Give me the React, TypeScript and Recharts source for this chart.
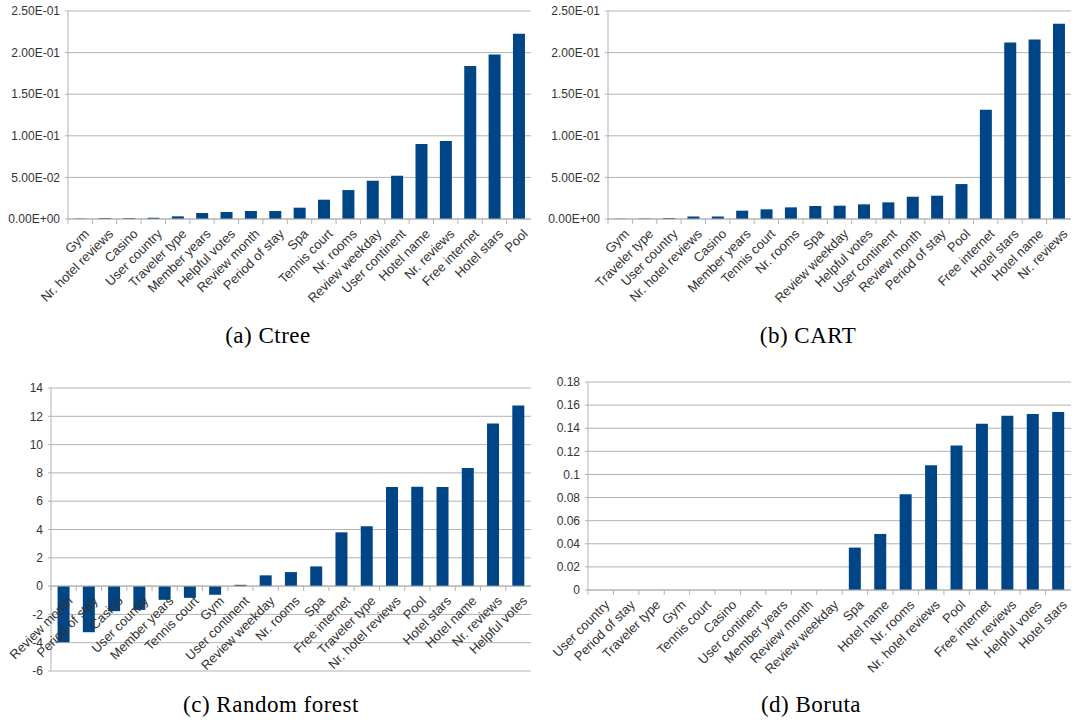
import React from 'react';
import {
  BarChart,
  Bar,
  XAxis,
  YAxis,
  CartesianGrid,
  ReferenceLine,
} from 'recharts';

const BLUE = '#004586';
const GRID = '#b3b3b3';
const TEXT = '#333333';
const FONT = '"Liberation Sans", Arial, sans-serif';

// (a) Ctree
const ctreeNames = [
  'Gym', 'Nr. hotel reviews', 'Casino', 'User country', 'Traveler type', 'Member years',
  'Helpful votes', 'Review month', 'Period of stay', 'Spa', 'Tennis court', 'Nr. rooms',
  'Review weekday', 'User continent', 'Hotel name', 'Nr. reviews', 'Free internet',
  'Hotel stars', 'Pool',
];
const ctreeValues = [
  0.0005, 0.001, 0.001, 0.0015, 0.0032, 0.0072, 0.0084, 0.0096, 0.0096, 0.0136, 0.0232,
  0.0348, 0.046, 0.052, 0.09, 0.0936, 0.184, 0.1976, 0.2228,
];

// (b) CART
const cartNames = [
  'Gym', 'Traveler type', 'User country', 'Nr. hotel reviews', 'Casino', 'Member years',
  'Tennis court', 'Nr. rooms', 'Spa', 'Review weekday', 'Helpful votes', 'User continent',
  'Review month', 'Period of stay', 'Pool', 'Free internet', 'Hotel stars', 'Hotel name',
  'Nr. reviews',
];
const cartValues = [
  0.0003, 0.0005, 0.0012, 0.003, 0.003, 0.01, 0.0116, 0.014, 0.0156, 0.016, 0.0176, 0.02,
  0.0268, 0.028, 0.042, 0.1312, 0.212, 0.2156, 0.2348,
];

// (c) Random forest
const rfNames = [
  'Review month', 'Period of stay', 'Casino', 'User country', 'Member years', 'Tennis court',
  'Gym', 'User continent', 'Review weekday', 'Nr. rooms', 'Spa', 'Free internet',
  'Traveler type', 'Nr. hotel reviews', 'Pool', 'Hotel stars', 'Hotel name', 'Nr. reviews',
  'Helpful votes',
];
const rfValues = [
  -3.97, -3.26, -1.77, -1.68, -0.97, -0.83, -0.61, 0.09, 0.76, 0.99, 1.39, 3.8, 4.23, 7.01,
  7.02, 7.01, 8.34, 11.5, 12.77,
];

// (d) Boruta
const borutaNames = [
  'User country', 'Period of stay', 'Traveler type', 'Gym', 'Tennis court', 'Casino',
  'User continent', 'Member years', 'Review month', 'Review weekday', 'Spa', 'Hotel name',
  'Nr. rooms', 'Nr. hotel reviews', 'Pool', 'Free internet', 'Nr. reviews', 'Helpful votes',
  'Hotel stars',
];
const borutaValues = [
  0, 0, 0, 0, 0, 0, 0, 0, 0, 0, 0.0367, 0.0485, 0.0829, 0.108, 0.125, 0.1439, 0.1508,
  0.1523, 0.154,
];

const sciTicks = [0, 0.05, 0.1, 0.15, 0.2, 0.25];
const rfTicks = [-6, -4, -2, 0, 2, 4, 6, 8, 10, 12, 14];
const borutaTicks = [0, 0.02, 0.04, 0.06, 0.08, 0.1, 0.12, 0.14, 0.16, 0.18];

// 2.50E-01 style labels
const sci = (v: number) => {
  if (v === 0) return '0.00E+00';
  const e = Math.floor(Math.log10(Math.abs(v)) + 1e-9);
  const m = v / Math.pow(10, e);
  const sign = e < 0 ? '-' : '+';
  return `${m.toFixed(2)}E${sign}${String(Math.abs(e)).padStart(2, '0')}`;
};

const CatTick = (props: any) => {
  const { x, y, payload, band, shift } = props;
  return (
    <g transform={`translate(${x},${y - shift})`}>
      <line x1={-band / 2} x2={-band / 2} y1={0} y2={5} stroke={GRID} />
      <g transform="translate(3,9) rotate(-45)">
        <text
          x={0}
          y={0}
          dy="0.72em"
          textAnchor="end"
          fill={TEXT}
          fontSize={13}
          fontFamily={FONT}
        >
          {payload.value}
        </text>
      </g>
    </g>
  );
};

interface PanelProps {
  names: string[];
  values: number[];
  ticks: number[];
  fmt?: (v: number) => string;
  left: number;
  top: number;
  width: number;
  height: number;
  margin: { top: number; right: number; bottom: number; left: number };
  yWidth: number;
  xHeight: number;
  zeroShift?: boolean;
}

const Panel = ({
  names, values, ticks, fmt, left, top, width, height, margin, yWidth, xHeight, zeroShift,
}: PanelProps) => {
  const data = names.map((name, i) => ({ name, value: values[i] }));
  const min = ticks[0];
  const max = ticks[ticks.length - 1];
  const plotW = width - margin.left - margin.right - yWidth;
  const plotH = height - margin.top - margin.bottom - xHeight;
  const band = plotW / names.length;
  const shift = zeroShift ? (plotH * (0 - min)) / (max - min) : 0;
  return (
    <div style={{ position: 'absolute', left, top, width, height }}>
      <BarChart width={width} height={height} data={data} margin={margin} barCategoryGap="26%">
        <CartesianGrid vertical={false} stroke={GRID} />
        <XAxis
          dataKey="name"
          interval={0}
          height={xHeight}
          axisLine={!zeroShift ? { stroke: GRID } : false}
          tickLine={false}
          tickSize={0}
          tickMargin={0}
          tick={<CatTick band={band} shift={shift} />}
        />
        <YAxis
          width={yWidth}
          domain={[min, max]}
          ticks={ticks}
          interval={0}
          tickFormatter={fmt}
          axisLine={{ stroke: GRID }}
          tickLine={{ stroke: GRID }}
          tickSize={3}
          tickMargin={5}
          tick={{ fill: TEXT, fontSize: 12, fontFamily: FONT }}
        />
        <YAxis
          yAxisId="r"
          orientation="right"
          width={0}
          domain={[min, max]}
          tick={false}
          tickLine={false}
          axisLine={{ stroke: GRID }}
        />
        {zeroShift && <ReferenceLine y={0} stroke={GRID} />}
        <Bar dataKey="value" fill={BLUE} isAnimationActive={false} />
      </BarChart>
    </div>
  );
};

const captionStyle: React.CSSProperties = {
  position: 'absolute',
  width: 300,
  textAlign: 'center',
  fontFamily: '"Liberation Serif", "DejaVu Serif", serif',
  fontSize: 23,
  letterSpacing: 0.5,
  color: '#000',
  lineHeight: '24px',
};

export default function App() {
  return (
    <div
      style={{
        position: 'absolute',
        left: 0,
        top: 0,
        width: 1077,
        height: 722,
        background: '#fff',
        overflow: 'hidden',
      }}
    >
      <Panel
        names={ctreeNames}
        values={ctreeValues}
        ticks={sciTicks}
        fmt={sci}
        left={0}
        top={0}
        width={540}
        height={320}
        margin={{ top: 11, right: 9, bottom: 11, left: 0 }}
        yWidth={68}
        xHeight={90}
      />
      <Panel
        names={cartNames}
        values={cartValues}
        ticks={sciTicks}
        fmt={sci}
        left={537}
        top={0}
        width={540}
        height={320}
        margin={{ top: 11, right: 6, bottom: 11, left: 0 }}
        yWidth={71}
        xHeight={90}
      />
      <Panel
        names={rfNames}
        values={rfValues}
        ticks={rfTicks}
        left={0}
        top={360}
        width={540}
        height={330}
        margin={{ top: 28, right: 9, bottom: 0, left: 0 }}
        yWidth={51}
        xHeight={19}
        zeroShift
      />
      <Panel
        names={borutaNames}
        values={borutaValues}
        ticks={borutaTicks}
        left={537}
        top={360}
        width={540}
        height={330}
        margin={{ top: 22, right: 6, bottom: 10, left: 0 }}
        yWidth={51}
        xHeight={90}
      />
      <div style={{ ...captionStyle, left: 118, top: 324 }}>(a) Ctree</div>
      <div style={{ ...captionStyle, left: 658, top: 324 }}>(b) CART</div>
      <div style={{ ...captionStyle, left: 121, top: 693 }}>(c) Random forest</div>
      <div style={{ ...captionStyle, left: 661, top: 693 }}>(d) Boruta</div>
    </div>
  );
}
